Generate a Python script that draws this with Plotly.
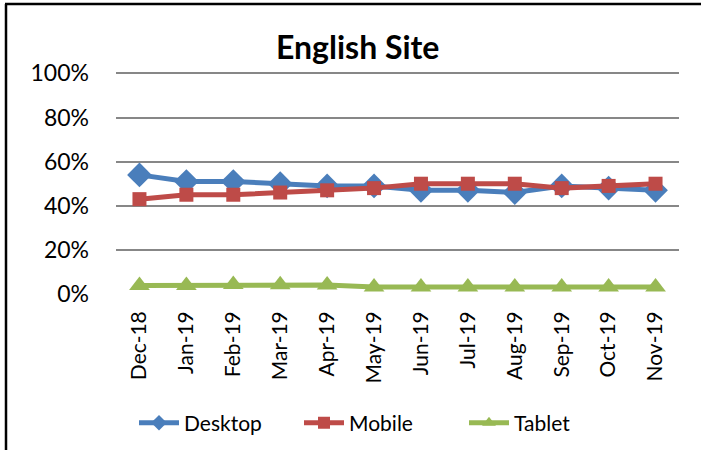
import plotly.graph_objects as go

months = ["Dec-18", "Jan-19", "Feb-19", "Mar-19", "Apr-19", "May-19",
          "Jun-19", "Jul-19", "Aug-19", "Sep-19", "Oct-19", "Nov-19"]
desktop = [0.54, 0.51, 0.51, 0.50, 0.49, 0.49, 0.47, 0.47, 0.46, 0.49, 0.48, 0.47]
mobile = [0.43, 0.45, 0.45, 0.46, 0.47, 0.48, 0.50, 0.50, 0.50, 0.48, 0.49, 0.50]
tablet = [0.039, 0.039, 0.043, 0.042, 0.041, 0.032, 0.032, 0.032, 0.032, 0.032, 0.032, 0.032]
y_ticks = [0, 0.2, 0.4, 0.6, 0.8, 1.0]
y_tick_labels = ["0%", "20%", "40%", "60%", "80%", "100%"]

FONT = "Lato"
fig = go.Figure()
series = [
    ("Desktop", desktop, "#4A7EBB", "diamond", 19),
    ("Mobile", mobile, "#BE4B48", "square", 14),
    ("Tablet", tablet, "#98B954", "triangle-up", 18),
]
for name, vals, color, sym, size in series:
    fig.add_trace(go.Scatter(
        x=months, y=vals, name=name, mode="lines+markers",
        line=dict(color=color, width=5),
        marker=dict(symbol=sym, size=size, color=color, line=dict(width=0)),
    ))

W, H = 701, 450
L, R = 116, 679
Y0, YSCALE = 294, 220.5          # pixel of 0% and pixels per 100%
YTOP = 1.02
T, B = Y0 - YTOP * YSCALE, Y0
pw, ph = R - L, B - T

def px(x):
    return (x - L) / pw

def py(y):
    return (B - y) / ph

fig.update_layout(
    width=W, height=H,
    margin=dict(l=L, r=W - R, t=T, b=H - B, autoexpand=False),
    paper_bgcolor="white", plot_bgcolor="white",
    font=dict(family=FONT, color="black"),
    showlegend=True,
    legend=dict(orientation="h", x=px(134), xanchor="left", y=py(423), yanchor="middle",
                font=dict(size=21, family=FONT, color="black"),
                entrywidth=110, traceorder="normal", itemwidth=40, itemsizing="constant"),
    annotations=[dict(text="<b>English Site</b>", x=px(357), y=py(47), xref="paper", yref="paper",
                      xanchor="center", yanchor="middle", showarrow=False,
                      font=dict(size=32, family=FONT, color="black"))],
    shapes=[
        dict(type="line", xref="paper", yref="paper", x0=px(5), x1=px(720), y0=py(4), y1=py(4),
             line=dict(color="black", width=2.5)),
        dict(type="line", xref="paper", yref="paper", x0=px(6), x1=px(6), y0=py(4), y1=py(470),
             line=dict(color="black", width=2.5)),
    ],
)
fig.update_xaxes(
    type="category", range=[-0.5, len(months) - 0.5],
    showgrid=False, showline=False, zeroline=False,
    tickangle=-90, tickfont=dict(size=21, family=FONT, color="black"),
    ticks="", ticklabelstandoff=12,
)
fig.update_yaxes(
    range=[0, YTOP], tickvals=y_ticks, ticktext=y_tick_labels,
    showgrid=True, gridcolor="#878787", gridwidth=2, zeroline=False, showline=False,
    tickfont=dict(size=23, family=FONT, color="black"), ticks="", ticklabelstandoff=26,
)
fig.write_html("out.html", config={"displayModeBar": False},
               post_script="document.body.style.margin='0';document.body.style.padding='0';")
